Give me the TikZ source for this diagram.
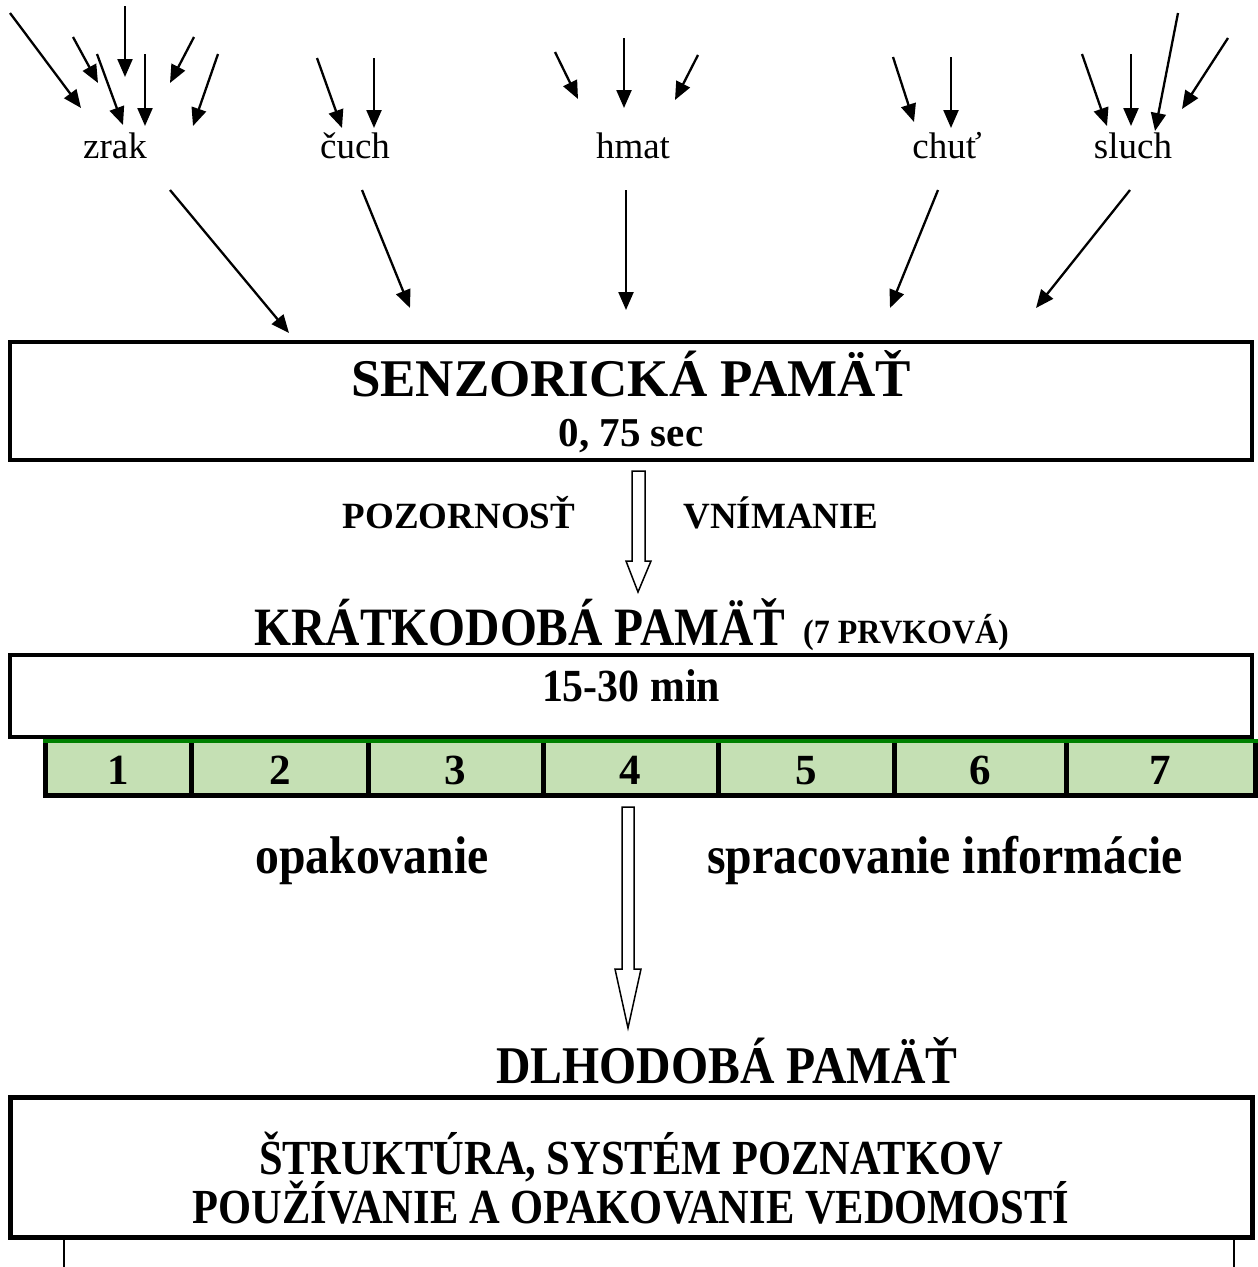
\documentclass[tikz,border=0pt]{standalone}
\usepackage{fontspec}
\setmainfont{Liberation Serif}
\usetikzlibrary{arrows.meta}
\definecolor{cellgreen}{HTML}{C5E0B4}
\definecolor{linegreen}{HTML}{008000}
\newcommand{\fsz}[1]{\fontsize{#1}{#1}\selectfont}
\newcommand{\cnd}[2]{\scalebox{#1}[1]{#2}}
\begin{document}
\begin{tikzpicture}[x=1pt,y=-1pt,
  arr/.style={line width=2.3pt,-{Triangle[length=18pt,width=15pt]}},
  sense/.style={inner sep=0,anchor=base,font=\fsz{37}},
  boxframe/.style={draw,inner sep=0,line width=4pt},
  txt/.style={inner sep=0,anchor=base,font=\bfseries},
  hollow/.style={draw,line width=1.5pt,fill=white,line join=miter}
]
\fill[white] (0,0) rectangle (1258,1267);
\useasboundingbox (0,0) rectangle (1258,1267);

% sense labels
\node[sense] (zrak)  at (115,158) {zrak};
\node[sense] (cuch)  at (355,158) {čuch};
\node[sense] (hmat)  at (633,158) {hmat};
\node[sense] (chut)  at (947,158) {chuť};
\node[sense] (sluch) at (1133,158) {sluch};

% incoming stimuli
\draw[arr] (10,13) -- (81,108);
\draw[arr] (73,37) -- (98,83);
\draw[arr] (97,54) -- (123,125);
\draw[arr] (125,6) -- (125,77);
\draw[arr] (145,54) -- (145,126);
\draw[arr] (194,37) -- (170,83);
\draw[arr] (218,54) -- (193,126);
\draw[arr] (317,58) -- (342,128);
\draw[arr] (374,58) -- (374,128);
\draw[arr] (555,52) -- (578,99);
\draw[arr] (624,38) -- (624,108);
\draw[arr] (698,55) -- (675,100);
\draw[arr] (893,57) -- (914,122);
\draw[arr] (951,57) -- (951,128);
\draw[arr] (1082,54) -- (1107,126);
\draw[arr] (1131,54) -- (1131,126);
\draw[arr] (1178,13) -- (1155,131);
\draw[arr] (1228,38) -- (1182,109);

% to sensory memory
\coordinate (e1) at (289,333);
\coordinate (e2) at (410,308);
\coordinate (e3) at (626,310);
\coordinate (e4) at (890,308);
\coordinate (e5) at (1036,308);
\draw[arr] (170,190) -- (e1);
\draw[arr] (362,190) -- (e2);
\draw[arr] (626,190) -- (e3);
\draw[arr] (938,190) -- (e4);
\draw[arr] (1130,190) -- (e5);

% sensory memory box
\node[boxframe, minimum width=1242pt, minimum height=118pt] (senz) at (631,401) {};
\node[txt, font=\bfseries\fsz{53}] (senzt) at (631,396) {SENZORICKÁ PAMÄŤ};
\node[txt, font=\bfseries\fsz{41}] (senzs) at (631,446) {0, 75 sec};

% hollow arrow 1
\draw[hollow] (632,471) -- (645,471) -- (645,561) -- (651,561) -- (638,592) -- (626,561) -- (632,561) -- cycle;
\node[txt, font=\bfseries\fsz{37}] (poz) at (459,528) {POZORNOSŤ};
\node[txt, font=\bfseries\fsz{37}] (vnim) at (781,528) {VNÍMANIE};

% short-term memory
\node[txt, font=\bfseries\fsz{54}] (kratt) at (520,645) {\cnd{0.88}{KRÁTKODOBÁ PAMÄŤ}};
\node[txt, font=\bfseries\fsz{34}] (prvk) at (906,643) {\cnd{0.94}{(7 PRVKOVÁ)}};
\node[boxframe, line width=3.5pt, minimum width=1242pt, minimum height=82pt] (krat) at (631,696) {};
\node[txt, font=\bfseries\fsz{46}] (kratm) at (631,701) {\cnd{0.91}{15-30 min}};

% seven cells
\fill[cellgreen] (45,741) rectangle (1255,795);
\draw[line width=5pt] (45,741) -- (45,795) -- (1255,795) -- (1255,741);
\foreach \xx in {191,368,543,718,894,1066} \draw[line width=5pt] (\xx,741) -- (\xx,795);
\draw[linegreen, line width=4pt] (43,741) -- (1258,741);
\foreach \xx/\nn in {118/1,280/2,455/3,630/4,806/5,980/6,1160/7}
  \node[txt, font=\bfseries\fsz{43}] (c\nn) at (\xx,784) {\nn};

% hollow arrow 2
\draw[hollow] (622,807) -- (634,807) -- (634,969) -- (641,969) -- (628,1028) -- (615,969) -- (622,969) -- cycle;
\node[txt, font=\bfseries\fsz{53}] (opak) at (372,873) {\cnd{0.9}{opakovanie}};
\node[txt, font=\bfseries\fsz{53}] (sprac) at (945,873) {\cnd{0.9}{spracovanie informácie}};

% long-term memory
\node[txt, font=\bfseries\fsz{53}] (dlht) at (727,1083) {\cnd{0.9}{DLHODOBÁ PAMÄŤ}};
\node[boxframe, line width=5pt, minimum width=1242pt, minimum height=140pt] (dlh) at (631,1167) {};
\node[txt, font=\bfseries\fsz{49}] (dl1) at (631,1174) {\cnd{0.867}{ŠTRUKTÚRA, SYSTÉM POZNATKOV}};
\node[txt, font=\bfseries\fsz{49}] (dl2) at (631,1223) {\cnd{0.867}{POUŽÍVANIE A OPAKOVANIE VEDOMOSTÍ}};
\coordinate (b1) at (64,1267);
\coordinate (b2) at (1234,1267);
\draw[line width=2pt] (64,1239) -- (b1);
\draw[line width=2pt] (1234,1239) -- (b2);
\end{tikzpicture}
\end{document}
